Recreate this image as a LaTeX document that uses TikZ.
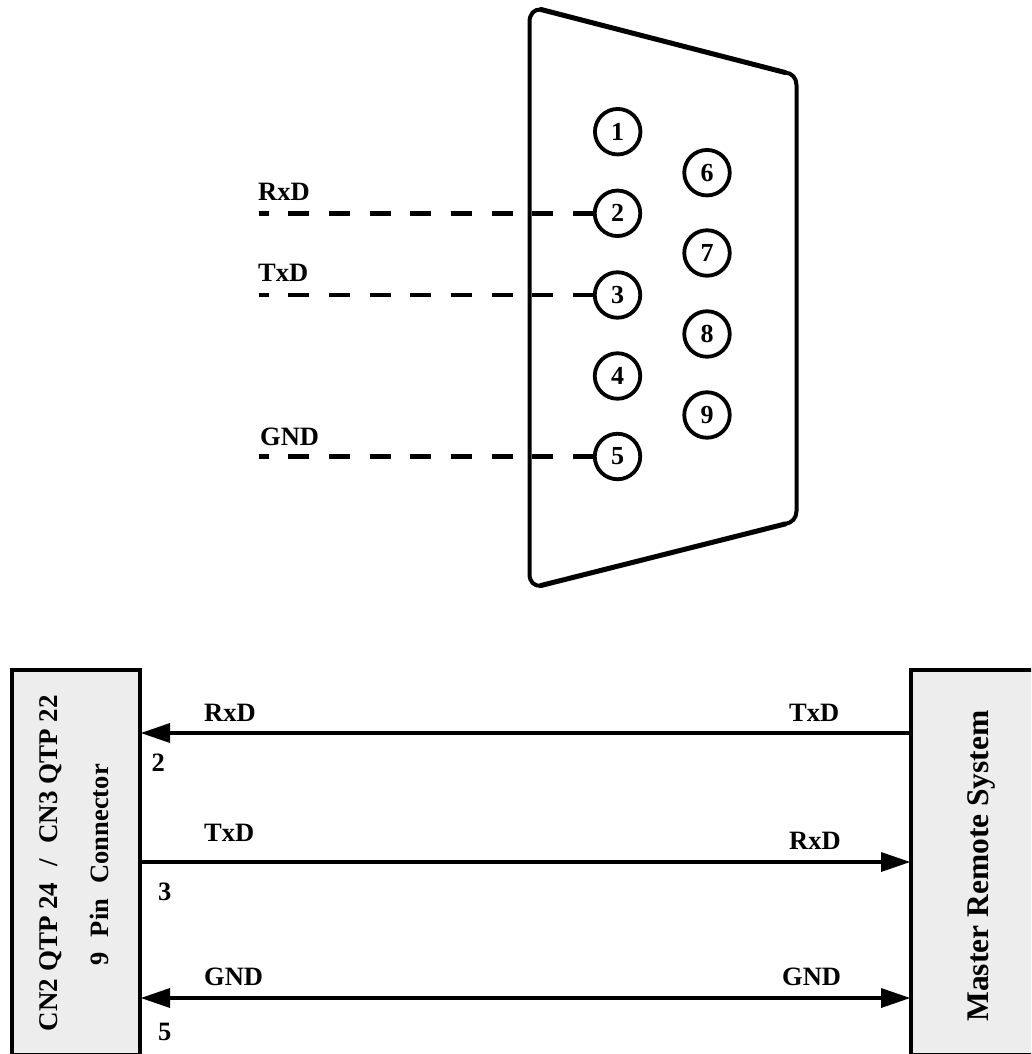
\documentclass[tikz,border=0pt]{standalone}
\usepackage{fontspec}
\setmainfont{Liberation Serif}
\usetikzlibrary{arrows.meta}
\tikzset{
  x=1pt,y=-1pt,
  lbl/.style={font=\bfseries\fontsize{26.5}{26.5}\selectfont,inner sep=0pt,text=black},
  pin/.style={circle,draw=black,line width=3.8pt,minimum size=45.5pt,inner sep=0pt,font=\bfseries\fontsize{26}{26}\selectfont},
  box/.style={draw=black,line width=4pt,fill=black!7,inner sep=0pt},
  wire/.style={line width=4.6pt,draw=black,shorten >=-1pt},
  dashwire/.style={line width=4.6pt,draw=black,dash pattern=on 21pt off 19.7pt,dash phase=11.8pt},
  tipf/.tip={Triangle[length=29pt,width=20pt,line width=0pt,black]},
  shell/.style={draw=black,line cap=round,line join=round}
}
\begin{document}
\begin{tikzpicture}
\useasboundingbox (0,0) rectangle (1031,1054);
\clip (0,0) rectangle (1031,1054);
% connector shell
\draw[shell,line width=4pt] (541,586) .. controls (534,586) and (529.5,582) .. (529.5,574) -- (529.5,22) .. controls (529.5,14) and (534,9) .. (541,9.5);
\draw[shell,line width=5pt] (541,9.5) -- (785,72.5);
\draw[shell,line width=4pt] (785,72.5) .. controls (792,73) and (796.5,78) .. (796.5,85) -- (796.5,511) .. controls (796.5,518) and (792,523) .. (785,524);
\draw[shell,line width=5pt] (785,524) -- (541,585.5);
% pins
\node[pin] (p1) at (617.7,131.7) {1};
\node[pin] (p2) at (617.5,213.3) {2};
\node[pin] (p3) at (617.5,295) {3};
\node[pin] (p4) at (617.5,376) {4};
\node[pin] (p5) at (617.5,456.5) {5};
\node[pin] (p6) at (707,172.7) {6};
\node[pin] (p7) at (707,253) {7};
\node[pin] (p8) at (707,334) {8};
\node[pin] (p9) at (707,415) {9};
\coordinate (a2) at (259.3,213.3);
\coordinate (a3) at (259.3,295);
\coordinate (a5) at (259.3,456.5);
\draw[dashwire] (a2) -- (p2);
\draw[dashwire] (a3) -- (p3);
\draw[dashwire] (a5) -- (p5);
\node[lbl,anchor=base west] (lr) at (258,200) {RxD};
\node[lbl,anchor=base west] (lt) at (258,281.7) {TxD};
\node[lbl,anchor=base west] (lg) at (260,445) {GND};
% boxes
\node[box,minimum width=128.5pt,minimum height=385pt] (cn) at (75.75,862.5) {};
\node[box,minimum width=150pt,minimum height=385pt] (ms) at (986,862.5) {};
\node[lbl,rotate=90,anchor=base] (cna) at (57,863) {\fontsize{27}{27}\selectfont CN2 QTP 24\, \,/\, \,CN3 QTP 22};
\node[lbl,rotate=90,anchor=base] (cnb) at (108,865) {\fontsize{26.5}{26.5}\selectfont 9\, \,Pin\, \,Connector};
\node[lbl,rotate=90,anchor=base] (msl) at (988,866) {\fontsize{31.5}{31.5}\selectfont Master Remote System};
% wires
\coordinate (c2) at (cn.east |- 0,733);
\coordinate (m2) at (ms.west |- 0,733);
\coordinate (c3) at (cn.east |- 0,862);
\coordinate (m3) at (ms.west |- 0,862);
\coordinate (c5) at (cn.east |- 0,998);
\coordinate (m5) at (ms.west |- 0,998);
\draw[wire,-tipf] (m2) -- (c2);
\draw[wire,-tipf] (c3) -- (m3);
\draw[wire,tipf-tipf,shorten <=-1pt] (c5) -- (m5);
% labels
\node[lbl,anchor=base west] (t1) at (204,721.7) {RxD};
\node[lbl,anchor=base west] (t2) at (789,721.7) {TxD};
\node[lbl,anchor=base west] (t3) at (204,841.7) {TxD};
\node[lbl,anchor=base west] (t4) at (789,849.3) {RxD};
\node[lbl,anchor=base west] (t5) at (204,985) {GND};
\node[lbl,anchor=base west] (t6) at (782,985) {GND};
\node[lbl,anchor=base west] (n2) at (151.5,771.7) {2};
\node[lbl,anchor=base west] (n3) at (158,900) {3};
\node[lbl,anchor=base west] (n5) at (158,1040) {5};
\end{tikzpicture}
\end{document}
